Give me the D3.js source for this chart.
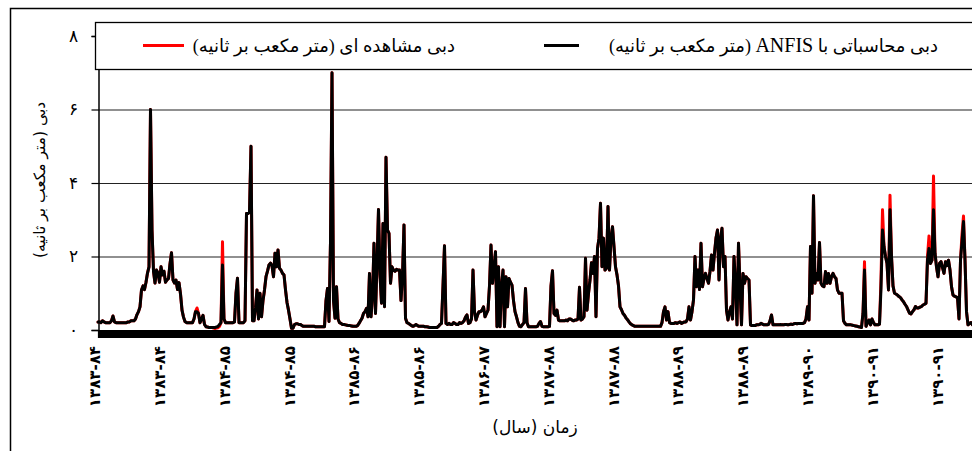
<!DOCTYPE html>
<html><head><meta charset="utf-8">
<script src="https://cdn.jsdelivr.net/npm/d3@7"></script>
<style>body{margin:0;background:#fff} svg{display:block}</style>
</head><body>
<svg id="c" width="972" height="451"></svg>
<script>
// sampling step of the series, in days from the start of water year 1383-84
const dayStep = 5;

// observed discharge (m3/s)
const observed = [
0.22,0.22,0.2,0.25,0.22,0.2,0.2,0.2,0.2,0.25,
0.38,0.22,0.2,0.2,0.2,0.2,0.2,0.2,0.2,0.2,
0.22,0.22,0.25,0.25,0.25,0.3,0.42,0.5,0.63,1.09,
1.2,1.1,1.3,1.55,1.72,6.0,2.72,1.6,1.28,1.63,
1.55,1.3,1.72,1.5,1.6,1.3,1.36,1.4,1.8,2.1,
1.36,1.28,1.36,1.1,1.29,0.98,0.54,0.35,0.23,0.2,
0.2,0.2,0.2,0.2,0.3,0.5,0.6,0.45,0.2,0.3,
0.4,0.15,0.09,0.08,0.07,0.07,0.07,0.05,0.04,0.05,
0.06,0.1,0.2,2.4,0.3,0.2,0.2,0.2,0.2,0.2,
0.2,0.22,1.0,1.41,0.2,0.2,0.2,0.2,0.25,3.17,
3.17,3.2,5.0,0.25,0.25,0.6,1.09,0.3,1.0,0.36,
0.8,1.09,1.45,1.6,1.77,1.82,1.75,1.45,2.09,1.72,
2.18,1.68,1.63,1.54,1.5,1.09,0.75,0.54,0.3,0.05,
0.05,0.15,0.17,0.17,0.15,0.15,0.12,0.1,0.1,0.1,
0.1,0.1,0.1,0.1,0.1,0.09,0.09,0.09,0.09,0.09,
0.09,0.09,0.8,1.13,0.23,2.4,7.0,0.8,0.32,1.18,
0.3,0.2,0.18,0.15,0.15,0.14,0.13,0.12,0.12,0.11,
0.1,0.1,0.1,0.12,0.18,0.25,0.32,0.45,0.5,0.59,
0.36,1.54,0.36,0.9,2.36,0.45,1.81,3.28,1.5,0.73,
2.9,0.63,4.7,2.72,2.63,1.27,1.72,1.63,1.6,1.65,
1.63,1.63,0.8,1.5,2.86,0.32,0.2,0.18,0.15,0.12,
0.1,0.12,0.15,0.12,0.1,0.1,0.1,0.1,0.09,0.09,
0.08,0.07,0.07,0.07,0.07,0.07,0.07,0.1,0.15,0.18,
1.2,2.29,0.18,0.15,0.18,0.15,0.15,0.2,0.18,0.15,
0.15,0.2,0.18,0.2,0.25,0.35,0.41,0.18,0.2,0.3,
1.63,0.5,0.27,0.4,0.5,0.5,0.54,0.63,0.36,0.45,
0.54,1.2,2.31,1.27,1.7,2.13,0.09,1.72,0.09,1.2,
1.63,0.09,1.45,0.63,1.4,1.3,1.22,0.8,0.5,0.36,
0.2,0.1,0.09,0.15,0.2,1.13,0.2,0.09,0.09,0.09,
0.09,0.09,0.09,0.1,0.18,0.23,0.1,0.09,0.09,0.09,
0.09,0.1,1.2,1.61,0.45,0.4,0.54,0.27,0.25,0.25,
0.25,0.25,0.27,0.25,0.3,0.3,0.27,0.25,0.27,0.27,
0.3,1.16,0.27,0.3,0.36,1.95,0.54,1.0,1.36,1.83,
1.54,2.0,0.36,2.22,2.5,3.45,1.72,2.5,1.63,1.68,
3.36,1.63,2.5,2.81,2.27,1.72,1.5,1.2,0.63,0.55,
0.45,0.4,0.33,0.28,0.22,0.17,0.14,0.12,0.1,0.1,
0.1,0.1,0.1,0.1,0.1,0.1,0.1,0.1,0.1,0.1,
0.1,0.1,0.1,0.1,0.1,0.1,0.2,0.5,0.63,0.27,
0.5,0.2,0.18,0.18,0.18,0.2,0.18,0.2,0.22,0.18,
0.2,0.22,0.22,0.3,0.63,0.27,0.5,0.82,2.0,1.18,
1.63,1.1,2.36,1.18,1.4,1.54,1.4,1.27,1.6,2.04,
1.63,2.09,2.5,2.72,1.36,2.5,2.77,1.72,2.0,0.54,
0.27,0.5,0.63,0.3,2.0,1.27,0.14,2.36,1.18,0.14,
1.54,1.27,1.45,1.4,1.36,0.14,0.12,0.12,0.12,0.14,
0.14,0.15,0.18,0.16,0.14,0.14,0.14,0.15,0.25,0.41,
0.14,0.14,0.14,0.14,0.14,0.15,0.14,0.14,0.15,0.15,
0.14,0.15,0.16,0.15,0.17,0.18,0.17,0.18,0.18,0.18,
0.18,0.2,0.3,0.63,0.27,2.27,1.0,3.65,1.27,1.54,
1.36,2.38,1.27,1.2,1.18,1.59,1.27,1.54,1.27,1.45,
1.54,1.45,1.4,1.09,1.0,1.0,1.0,0.25,0.18,0.14,
0.14,0.14,0.14,0.13,0.12,0.11,0.1,0.09,0.08,0.07,
0.45,1.86,0.1,0.2,0.27,0.14,0.3,0.2,0.14,0.14,
0.14,0.16,1.4,3.27,2.27,2.0,1.81,1.09,3.67,2.0,
1.2,1.0,0.98,0.95,0.91,0.88,0.82,0.77,0.7,0.64,
0.55,0.46,0.44,0.5,0.55,0.64,0.6,0.6,0.62,0.64,
0.68,0.7,0.73,2.0,2.56,1.81,1.9,4.19,2.09,1.72,
1.45,1.81,1.86,1.7,1.54,1.86,1.75,1.9,1.63,1.18,
0.95,0.92,0.9,0.88,0.3,1.9,2.6,3.1,1.9,0.5,
0.14,0.18,0.2,0.14,0.12
];

// discharge computed with ANFIS (m3/s)
const simulated = [
0.22,0.22,0.2,0.25,0.22,0.2,0.2,0.2,0.2,0.25,
0.38,0.22,0.2,0.2,0.2,0.2,0.2,0.2,0.2,0.2,
0.22,0.22,0.25,0.25,0.25,0.3,0.42,0.5,0.63,1.09,
1.2,1.1,1.3,1.55,1.72,6.0,2.72,1.6,1.28,1.63,
1.55,1.3,1.72,1.5,1.6,1.3,1.36,1.4,1.8,2.1,
1.36,1.28,1.36,1.1,1.29,0.98,0.54,0.35,0.23,0.2,
0.2,0.2,0.2,0.2,0.3,0.5,0.5,0.45,0.2,0.3,
0.4,0.15,0.09,0.08,0.07,0.07,0.07,0.07,0.07,0.08,
0.1,0.15,0.2,1.77,0.3,0.2,0.2,0.2,0.2,0.2,
0.2,0.22,1.0,1.41,0.2,0.2,0.2,0.2,0.25,3.17,
3.17,3.2,5.0,0.25,0.25,0.6,1.09,0.3,1.0,0.36,
0.8,1.09,1.45,1.6,1.77,1.82,1.75,1.45,2.09,1.72,
2.18,1.68,1.63,1.54,1.5,1.09,0.75,0.54,0.3,0.05,
0.05,0.15,0.17,0.17,0.15,0.15,0.12,0.1,0.1,0.1,
0.1,0.1,0.1,0.1,0.1,0.09,0.09,0.09,0.09,0.09,
0.09,0.09,0.8,1.13,0.23,2.4,7.0,0.8,0.32,1.18,
0.3,0.2,0.18,0.15,0.15,0.14,0.13,0.12,0.12,0.11,
0.1,0.1,0.1,0.12,0.18,0.25,0.32,0.45,0.5,0.59,
0.36,1.54,0.36,0.9,2.36,0.45,1.81,3.28,1.5,0.73,
2.9,0.63,4.7,2.72,2.63,1.27,1.72,1.63,1.6,1.65,
1.63,1.63,0.8,1.5,2.86,0.32,0.2,0.18,0.15,0.12,
0.1,0.12,0.15,0.12,0.1,0.1,0.1,0.1,0.09,0.09,
0.08,0.07,0.07,0.07,0.07,0.07,0.07,0.1,0.15,0.18,
1.2,2.29,0.18,0.15,0.18,0.15,0.15,0.2,0.18,0.15,
0.15,0.2,0.18,0.2,0.25,0.35,0.41,0.18,0.2,0.3,
1.63,0.5,0.27,0.4,0.5,0.5,0.54,0.63,0.36,0.45,
0.54,1.2,2.31,1.27,1.7,2.13,0.09,1.72,0.09,1.2,
1.63,0.09,1.45,0.63,1.4,1.3,1.22,0.8,0.5,0.36,
0.2,0.1,0.09,0.15,0.2,1.13,0.2,0.09,0.09,0.09,
0.09,0.09,0.09,0.1,0.18,0.23,0.1,0.09,0.09,0.09,
0.09,0.1,1.2,1.61,0.45,0.4,0.54,0.27,0.25,0.25,
0.25,0.25,0.27,0.25,0.3,0.3,0.27,0.25,0.27,0.27,
0.3,1.16,0.27,0.3,0.36,1.95,0.54,1.0,1.36,1.83,
1.54,2.0,0.36,2.22,2.5,3.45,1.72,2.5,1.63,1.68,
3.36,1.63,2.5,2.81,2.27,1.72,1.5,1.2,0.63,0.55,
0.45,0.4,0.33,0.28,0.22,0.17,0.14,0.12,0.1,0.1,
0.1,0.1,0.1,0.1,0.1,0.1,0.1,0.1,0.1,0.1,
0.1,0.1,0.1,0.1,0.1,0.1,0.2,0.5,0.63,0.27,
0.5,0.2,0.18,0.18,0.18,0.2,0.18,0.2,0.22,0.18,
0.2,0.22,0.22,0.3,0.63,0.27,0.5,0.82,2.0,1.18,
1.63,1.1,2.36,1.18,1.4,1.54,1.4,1.27,1.6,2.04,
1.63,2.09,2.5,2.72,1.36,2.5,2.77,1.72,2.0,0.54,
0.27,0.5,0.63,0.3,2.0,1.27,0.14,2.36,1.18,0.14,
1.54,1.27,1.45,1.4,1.36,0.14,0.12,0.12,0.12,0.14,
0.14,0.15,0.18,0.16,0.14,0.14,0.14,0.15,0.25,0.41,
0.14,0.14,0.14,0.14,0.14,0.15,0.14,0.14,0.15,0.15,
0.14,0.15,0.16,0.15,0.17,0.18,0.17,0.18,0.18,0.18,
0.18,0.2,0.3,0.63,0.27,2.27,1.0,3.65,1.27,1.54,
1.36,2.38,1.27,1.2,1.18,1.59,1.27,1.54,1.27,1.45,
1.54,1.45,1.4,1.09,1.0,1.0,1.0,0.25,0.18,0.14,
0.14,0.14,0.14,0.13,0.12,0.11,0.1,0.09,0.08,0.07,
0.45,1.63,0.1,0.2,0.27,0.14,0.3,0.2,0.14,0.14,
0.14,0.16,1.13,2.72,2.27,2.0,1.81,1.09,3.27,2.0,
1.2,1.0,0.98,0.95,0.91,0.88,0.82,0.77,0.7,0.64,
0.55,0.46,0.44,0.5,0.55,0.64,0.6,0.6,0.62,0.64,
0.68,0.7,0.73,1.9,2.22,1.81,1.9,3.27,2.09,1.72,
1.45,1.81,1.86,1.7,1.54,1.86,1.75,1.9,1.63,1.18,
0.95,0.92,0.9,0.88,0.3,1.9,2.4,2.95,1.9,0.5,
0.14,0.18,0.2,0.14,0.12
];

const yTicks = [0, 2, 4, 6, 8];
const yTickLabels = ['۰', '۲', '۴', '۶', '۸'];
const xTickDays = [-10, 206, 422, 638, 854, 1070, 1286, 1502, 1718, 1934, 2150, 2366, 2582, 2798];
const xTickLabels = ['۱۳۸۳-۸۴','۱۳۸۳-۸۴','۱۳۸۴-۸۵','۱۳۸۴-۸۵','۱۳۸۵-۸۶','۱۳۸۵-۸۶','۱۳۸۶-۸۷',
                     '۱۳۸۷-۸۸','۱۳۸۷-۸۸','۱۳۸۸-۸۹','۱۳۸۸-۸۹','۱۳۸۹-۹۰','۱۳۹۰-۹۱','۱۳۹۰-۹۱'];
const seriesNames = ['دبی مشاهده ای (متر مکعب بر ثانیه)', 'دبی محاسباتی با ANFIS (متر مکعب بر ثانیه)'];
const seriesColors = ['#ff0000', '#000000'];
const yTitle = 'دبی (متر مکعب بر ثانیه)';
const xTitle = 'زمان (سال)';

const svg = d3.select('#c');
const FONT = "'Liberation Serif', 'DejaVu Sans', sans-serif";
const AR = "'DejaVu Sans', sans-serif";

const x = d3.scaleLinear().domain([0, 2930]).range([98, 977]);
const y = d3.scaleLinear().domain([0, 8]).range([330, 36]);
const days = simulated.map((_, i) => i * dayStep);

// outer frame
svg.append('rect').attr('x', 10.5).attr('y', 8.5).attr('width', 1000).attr('height', 500)
  .attr('fill', 'none').attr('stroke', '#000').attr('stroke-width', 1.5);

// gridlines
const grid = svg.append('g').attr('transform', 'translate(98,0)')
  .call(d3.axisLeft(y).tickValues(yTicks.filter(d => d > 0)).tickSize(-(972 - 98)).tickFormat(''));
grid.select('.domain').remove();
grid.selectAll('line').attr('stroke', '#222').attr('stroke-width', 1.2);

// series
const line = d3.line().x((d, i) => x(days[i])).y(d => y(d));
[observed, simulated].forEach((s, k) => {
  svg.append('path').datum(s).attr('d', line).attr('fill', 'none')
    .attr('stroke', seriesColors[k]).attr('stroke-width', 3)
    .attr('stroke-linejoin', 'round').attr('stroke-linecap', 'round');
});

// x axis: dense daily ticks form the black band
const xa = svg.append('g').attr('transform', 'translate(0,330)')
  .call(d3.axisBottom(x).tickValues(d3.range(0, 2931, 1)).tickSize(8).tickFormat(''));
xa.selectAll('line').attr('stroke', '#000').attr('stroke-width', 1.2);
xa.select('.domain').attr('stroke', '#000');

// x tick labels
const xl = svg.append('g').attr('transform', 'translate(0,346)')
  .call(d3.axisBottom(x).tickValues(xTickDays).tickSize(0).tickFormat((d, i) => xTickLabels[i]));
xl.select('.domain').remove();
xl.selectAll('text')
  .attr('transform', 'rotate(-90)')
  .attr('x', 0).attr('y', 0).attr('dy', '0.35em')
  .attr('text-anchor', 'end')
  .style('font-family', AR).style('font-size', '15px').style('font-weight', 'bold').attr('fill', '#000');
xl.selectAll('.tick').attr('transform', d => `translate(${x(d)},0)`);

// y axis
const ya = svg.append('g').attr('transform', 'translate(98.5,0)')
  .call(d3.axisLeft(y).tickValues(yTicks).tickSize(7).tickFormat((d, i) => yTickLabels[i]));
ya.selectAll('line').attr('stroke', '#000').attr('stroke-width', 1.2);
ya.select('.domain').attr('stroke', '#000').attr('stroke-width', 1.5);
ya.selectAll('text').attr('x', -25).attr('text-anchor', 'middle')
  .style('font-family', AR).style('font-size', '17px').attr('fill', '#000');

// legend
const lg = svg.append('g');
lg.append('rect').attr('x', 95.5).attr('y', 22.5).attr('width', 900).attr('height', 47)
  .attr('fill', '#fff').attr('stroke', '#000').attr('stroke-width', 1.3);
const legendPos = [{l1: 143, l2: 184, tx: 455}, {l1: 544, l2: 579, tx: 938}];
seriesNames.forEach((n, k) => {
  const p = legendPos[k];
  lg.append('line').attr('x1', p.l1).attr('x2', p.l2).attr('y1', 45.5).attr('y2', 45.5)
    .attr('stroke', seriesColors[k]).attr('stroke-width', 2.8);
  const t = lg.append('text').attr('x', p.tx).attr('y', 52).attr('direction', 'rtl').style('direction', 'rtl')
    .attr('text-anchor', 'start').style('font-family', FONT).style('font-size', '18px').attr('fill', '#000');
  const parts = n.split(/(ANFIS)/);
  parts.forEach(s => {
    const ts = t.append('tspan').text(s);
    if (s === 'ANFIS') ts.style('font-size', '20px');
  });
});

// axis titles
svg.append('text').attr('transform', 'translate(40,180) rotate(-90)').attr('text-anchor', 'middle')
  .attr('dy', '0.35em').attr('direction', 'rtl').style('direction', 'rtl')
  .style('font-family', AR).style('font-size', '15.5px').attr('fill', '#000').text(yTitle);
svg.append('text').attr('x', 535).attr('y', 433).attr('text-anchor', 'middle')
  .attr('direction', 'rtl').style('direction', 'rtl')
  .style('font-family', AR).style('font-size', '17px').attr('fill', '#000').text(xTitle);
</script>
</body></html>
